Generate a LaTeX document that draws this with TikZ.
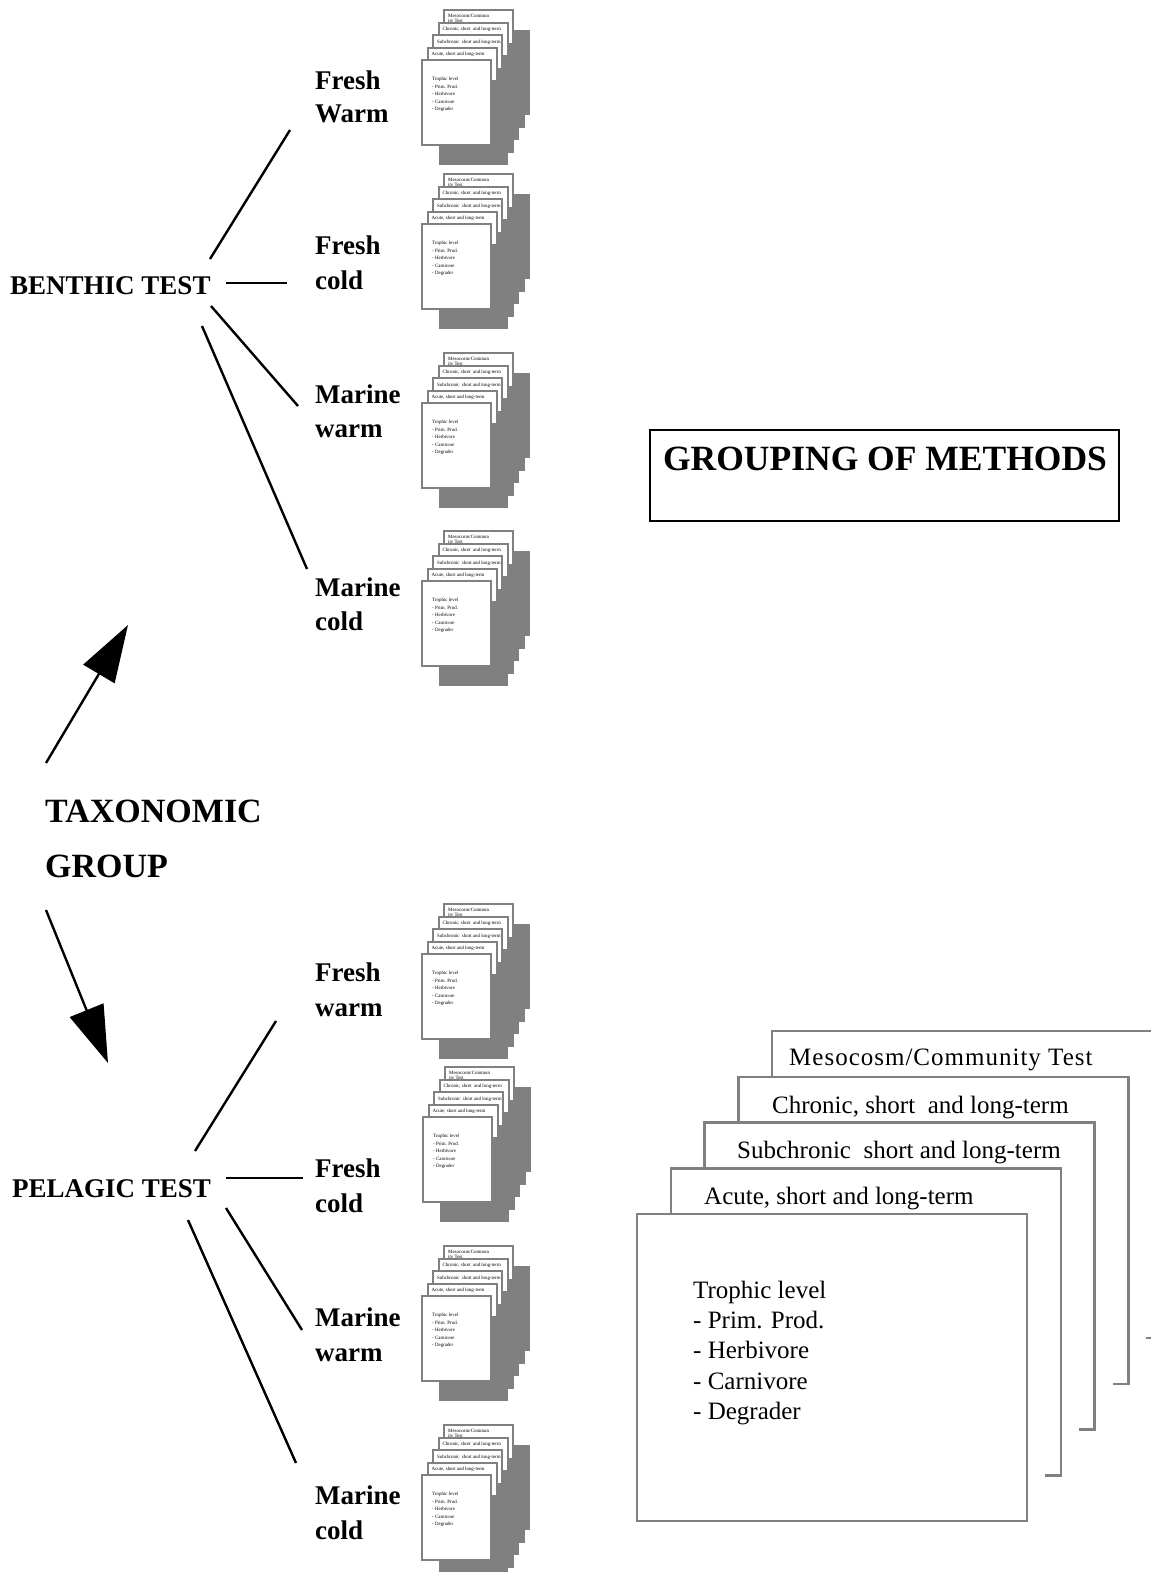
\documentclass[tikz,border=0pt]{standalone}
\usepackage{fontspec}
\setmainfont{Liberation Serif}
\usetikzlibrary{arrows.meta}
\definecolor{cardgray}{HTML}{808080}

\tikzset{
  conn/.style={line width=2.4pt, black},
  bigarrow/.style={line width=2.4pt, black, -{Triangle[length=57pt,width=36pt]}},
  lbl/.style={font=\fontsize{27}{30}\selectfont\bfseries, anchor=base west, inner sep=0pt},
  toplbl/.style={font=\fontsize{34}{38}\selectfont\bfseries, anchor=base west, inner sep=0pt},
  minicardbox/.style={draw=cardgray, line width=2pt, fill=white},
  minishade/.style={fill=cardgray},
  minitext/.style={font=\fontsize{4.9}{5.5}\selectfont, anchor=base west, inner sep=0pt},
  bigcardbox/.style={draw=cardgray, line width=2.5pt, fill=white},
  bigtext/.style={font=\fontsize{25}{28}\selectfont, anchor=base west, inner sep=0pt},
}

% one small card with its grey drop shadow; #1,#2 = top-left corner
\newcommand\minicard[2]{%
  \fill[minishade] ({#1+17},{#2+20}) rectangle ++(69,85);
  \draw[minicardbox] ({#1},{#2}) rectangle ++(69,85);
}

% a small stack of five cards; #1,#2 = top-left of the front card, #3 = name prefix
\newcommand\ministack[3]{%
  \minicard{#1+22}{#2-50}
  \node[minitext] (#3-m1) at ({#1+26},{#2-43}) {Mesocosm/Commun};
  \node[minitext] (#3-m2) at ({#1+26},{#2-38}) {ity Test};
  \minicard{#1+16.5}{#2-37.5}
  \node[minitext] (#3-ch) at ({#1+20.5},{#2-30}) {Chronic, short\ \ and long-term};
  \minicard{#1+11}{#2-25}
  \node[minitext] (#3-sc) at ({#1+15},{#2-17}) {Subchronic\ \ short and long-term};
  \minicard{#1+5.5}{#2-12.5}
  \node[minitext] (#3-ac) at ({#1+9.5},{#2-4.5}) {Acute, short and long-term};
  \minicard{#1}{#2}
  \node[minitext] (#3-t0) at ({#1+10},{#2+20.5}) {Trophic level};
  \node[minitext] (#3-t1) at ({#1+10},{#2+28}) {- Prim. Prod.};
  \node[minitext] (#3-t2) at ({#1+10},{#2+35.5}) {- Herbivore};
  \node[minitext] (#3-t3) at ({#1+10},{#2+43}) {- Carnivore};
  \node[minitext] (#3-t4) at ({#1+10},{#2+50.5}) {- Degrader};
}

% one large card with a white offset backing; #1,#2 = top-left corner
\newcommand\largecard[2]{%
  \fill[white] ({#1+18},{#2+18}) rectangle ++(390,307);
  \draw[bigcardbox] ({#1},{#2}) rectangle ++(390,307);
}

\begin{document}
\begin{tikzpicture}[x=1pt,y=-1pt]
\useasboundingbox (0,0) rectangle (1151,1572);
\clip (0,0) rectangle (1151,1572);

% ---------- benthic branch ----------
\node[lbl] (benthic) at (10,294) {BENTHIC TEST};

\node[lbl] (bfw1) at (315,89) {Fresh};
\node[lbl] (bfw2) at (315,122) {Warm};
\node[lbl] (bfc1) at (315,254) {Fresh};
\node[lbl] (bfc2) at (315,289) {cold};
\node[lbl] (bmw1) at (315,403) {Marine};
\node[lbl] (bmw2) at (315,437) {warm};
\node[lbl] (bmc1) at (315,596) {Marine};
\node[lbl] (bmc2) at (315,630) {cold};

\coordinate (b-fw-a) at (210,259); \coordinate (b-fw-b) at (290,130);
\coordinate (b-fc-a) at (226,283); \coordinate (b-fc-b) at (287,283);
\coordinate (b-mw-a) at (211,306); \coordinate (b-mw-b) at (298,406);
\coordinate (b-mc-a) at (202,326); \coordinate (b-mc-b) at (307,569);
\draw[conn] (b-fw-a) -- (b-fw-b);
\draw[conn] (b-fc-a) -- (b-fc-b);
\draw[conn] (b-mw-a) -- (b-mw-b);
\draw[conn] (b-mc-a) -- (b-mc-b);

\ministack{422}{60}{sb1}
\ministack{422}{224}{sb2}
\ministack{422}{403}{sb3}
\ministack{422}{581}{sb4}

% ---------- taxonomic group ----------
\node[toplbl] (tax1) at (45,822) {TAXONOMIC};
\node[toplbl] (tax2) at (45,877) {GROUP};
\coordinate (up-a) at (46,763); \coordinate (up-b) at (128,625);
\coordinate (dn-a) at (46,910); \coordinate (dn-b) at (108,1063);
\draw[bigarrow] (up-a) -- (up-b);
\draw[bigarrow] (dn-a) -- (dn-b);

% ---------- pelagic branch ----------
\node[lbl] (pelagic) at (12,1197) {PELAGIC TEST};

\node[lbl] (pfw1) at (315,981) {Fresh};
\node[lbl] (pfw2) at (315,1016) {warm};
\node[lbl] (pfc1) at (315,1177) {Fresh};
\node[lbl] (pfc2) at (315,1212) {cold};
\node[lbl] (pmw1) at (315,1326) {Marine};
\node[lbl] (pmw2) at (315,1361) {warm};
\node[lbl] (pmc1) at (315,1504) {Marine};
\node[lbl] (pmc2) at (315,1539) {cold};

\coordinate (p-fw-a) at (195,1151); \coordinate (p-fw-b) at (276,1021);
\coordinate (p-fc-a) at (226,1178); \coordinate (p-fc-b) at (303,1178);
\coordinate (p-mw-a) at (226,1208); \coordinate (p-mw-b) at (302,1330);
\coordinate (p-mc-a) at (188,1220); \coordinate (p-mc-b) at (296,1463);
\draw[conn] (p-fw-a) -- (p-fw-b);
\draw[conn] (p-fc-a) -- (p-fc-b);
\draw[conn] (p-mw-a) -- (p-mw-b);
\draw[conn] (p-mc-a) -- (p-mc-b);

\ministack{422}{954}{sp1}
\ministack{423}{1117}{sp2}
\ministack{422}{1296}{sp3}
\ministack{422}{1475}{sp4}

% ---------- title box ----------
\node[draw=black, line width=2pt, minimum width=469pt, minimum height=91pt,
      anchor=north west, inner sep=0pt] (grpbox) at (649,429) {};
\node[font=\fontsize{35.5}{40}\selectfont\bfseries, anchor=base, inner sep=0pt]
      (grp) at (885,470) {GROUPING OF METHODS};

% ---------- enlarged card stack ----------
\largecard{772}{1031}
\node[bigtext] (lg-meso) at (789,1065) {\addfontfeature{LetterSpace=4}Mesocosm/Community Test};
\largecard{738.25}{1076.75}
\node[bigtext] (lg-chr) at (772,1113) {Chronic, short\ \ and long-term};
\largecard{704.5}{1122.5}
\node[bigtext] (lg-sub) at (737,1158) {Subchronic\ \ short and long-term};
\largecard{670.75}{1168.25}
\node[bigtext] (lg-acu) at (704,1204) {Acute, short and long-term};
\largecard{637}{1214}
\node[bigtext] (lg-t0) at (693,1298) {Trophic level};
\node[bigtext] (lg-t1) at (693,1328) {- Prim. Prod.};
\node[bigtext] (lg-t2) at (693,1358) {- Herbivore};
\node[bigtext] (lg-t3) at (693,1389) {- Carnivore};
\node[bigtext] (lg-t4) at (693,1419) {- Degrader};
\end{tikzpicture}
\end{document}
